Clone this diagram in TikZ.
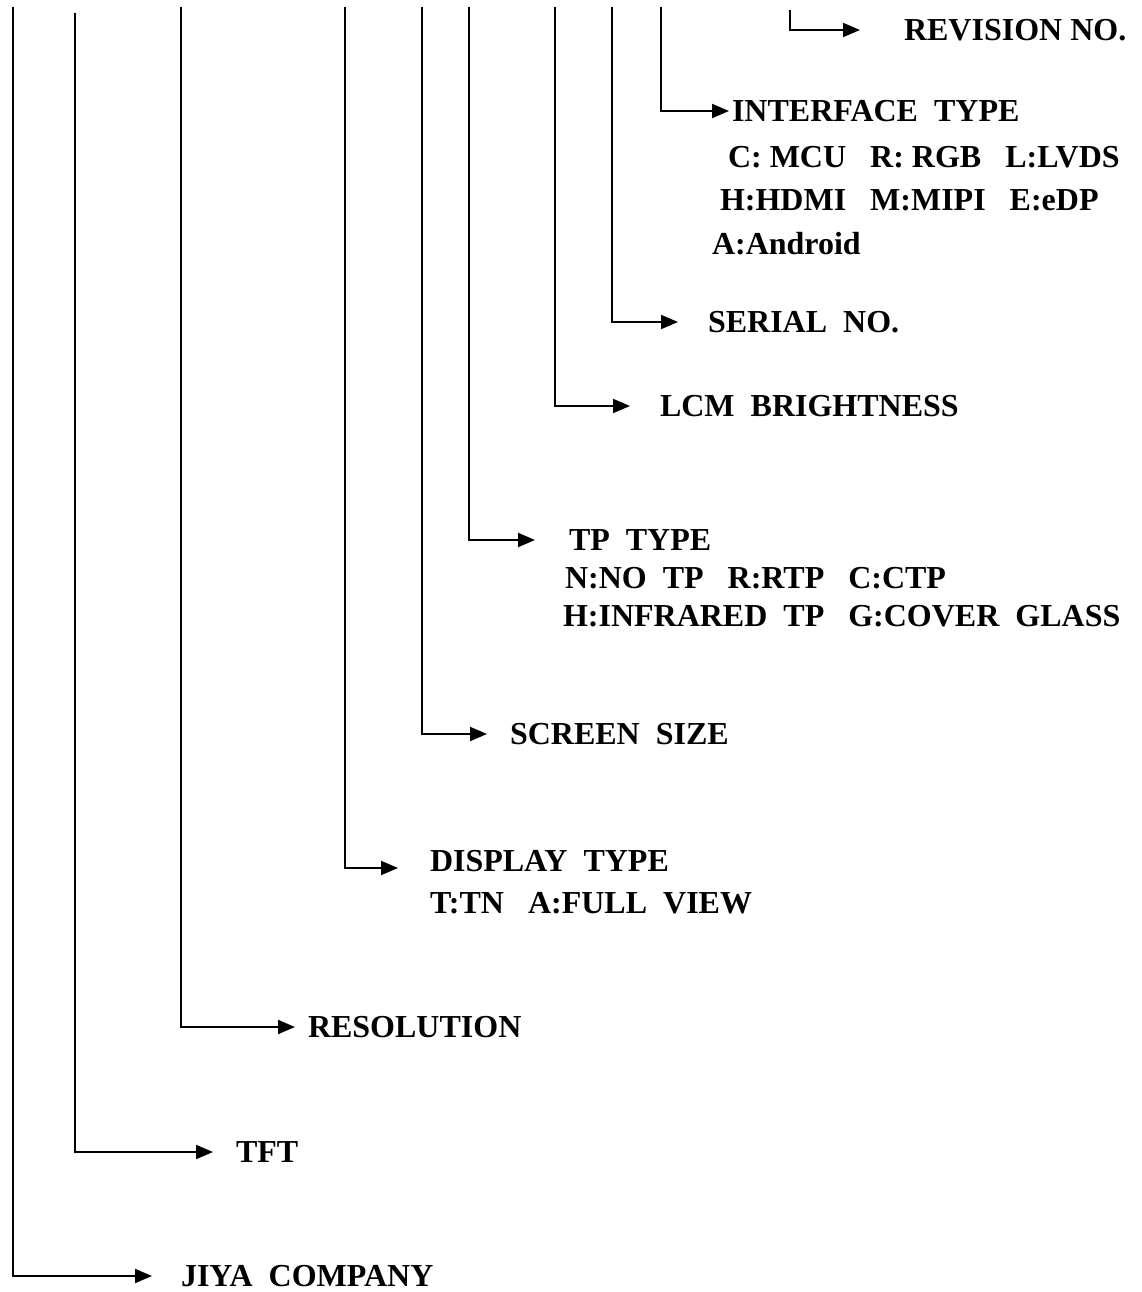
\documentclass[tikz,border=0pt]{standalone}
\usepackage{fontspec}
\setmainfont{Liberation Serif}
\usetikzlibrary{arrows.meta}

\begin{document}
\begin{tikzpicture}[x=1pt,y=-1pt,>={Triangle[length=17pt,width=14pt]},line width=2pt,
  lbl/.style={anchor=west,inner sep=0pt,font=\bfseries\fontsize{32}{38}\selectfont}]
  \useasboundingbox (0,0) rectangle (1141,1292);
  % tops of the vertical lines
  \coordinate (jiyatop) at (13,7);   \coordinate (tfttop) at (75,13);
  \coordinate (restop) at (181,7);   \coordinate (disptop) at (345,7);
  \coordinate (sizetop) at (422,7);  \coordinate (tptop) at (469,7);
  \coordinate (lcmtop) at (555,7);   \coordinate (sertop) at (612,7);
  \coordinate (ifctop) at (661,7);   \coordinate (revtop) at (790,10);
  % labels
  \node[lbl] (rev) at (903,30) {REVISION NO.};
  \node[lbl] (ifc) at (731,111) {INTERFACE~~TYPE};
  \node[lbl] (ifc1) at (727,157) {C: MCU~~~R: RGB~~~L:LVDS};
  \node[lbl] (ifc2) at (719,200) {H:HDMI~~~M:MIPI~~~E:eDP};
  \node[lbl] (ifc3) at (711,244) {A:Android};
  \node[lbl] (ser) at (707,322) {SERIAL~~NO.};
  \node[lbl] (lcm) at (659,406) {LCM~~BRIGHTNESS};
  \node[lbl] (tp) at (568,540) {TP~~TYPE};
  \node[lbl] (tp1) at (564,578) {N:NO~~TP~~~R:RTP~~~C:CTP};
  \node[lbl] (tp2) at (562,616) {H:INFRARED~~TP~~~G:COVER~~GLASS};
  \node[lbl] (size) at (509,734) {SCREEN~~SIZE};
  \node[lbl] (disp) at (429,861) {DISPLAY~~TYPE};
  \node[lbl] (disp1) at (429,903) {T:TN~~~A:FULL~~VIEW};
  \node[lbl] (res) at (307,1027) {RESOLUTION};
  \node[lbl] (tft) at (235,1152) {TFT};
  \node[lbl] (jiya) at (180,1276) {JIYA~~COMPANY};
  % connectors
  \draw[->,shorten >=43pt] (revtop) |- (rev.west);
  \draw[->,shorten >=2pt] (ifctop) |- (ifc.west);
  \draw[->,shorten >=29pt] (sertop) |- (ser.west);
  \draw[->,shorten >=29pt] (lcmtop) |- (lcm.west);
  \draw[->,shorten >=33pt] (tptop) |- (tp.west);
  \draw[->,shorten >=22pt] (sizetop) |- (size.west);
  \draw[->,shorten >=31pt] (disptop) |- ([yshift=-7pt]disp.west);
  \draw[->,shorten >=12pt] (restop) |- (res.west);
  \draw[->,shorten >=22pt] (tfttop) |- (tft.west);
  \draw[->,shorten >=28pt] (jiyatop) |- (jiya.west);
\end{tikzpicture}
\end{document}
